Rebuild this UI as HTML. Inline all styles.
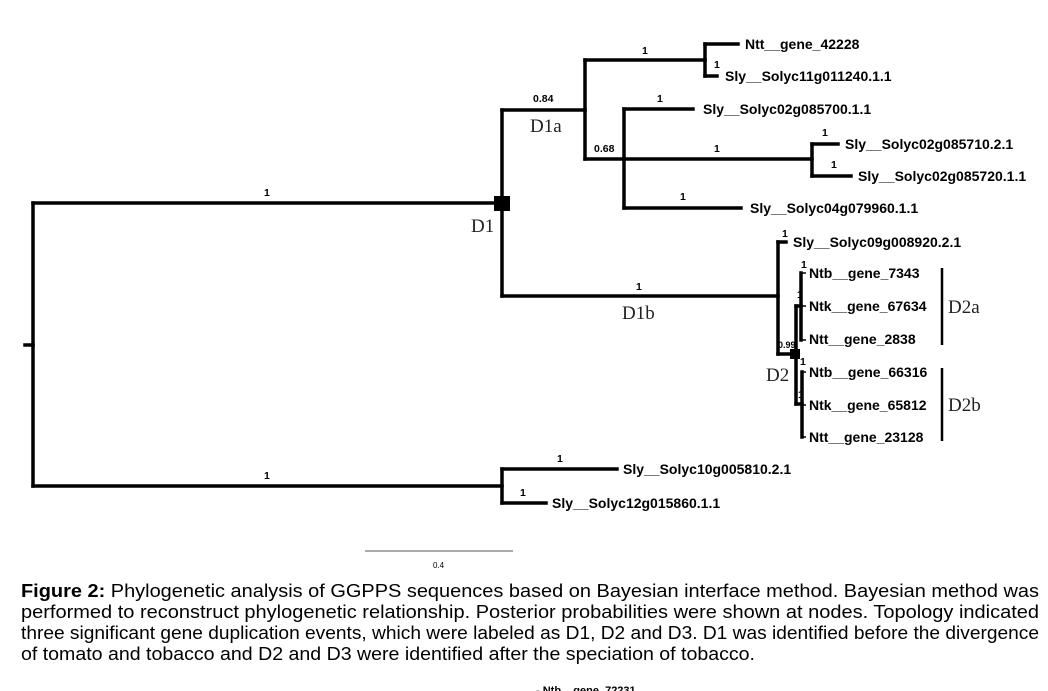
<!DOCTYPE html>
<html><head><meta charset="utf-8"><style>
html,body{margin:0;padding:0;background:#fff;}
svg{display:block;}
.t{font-family:"Liberation Sans",Arial,sans-serif;font-weight:bold;font-size:14px;fill:#000;}
.n{font-family:"Liberation Sans",Arial,sans-serif;font-weight:bold;font-size:10.5px;fill:#000;}
.s{font-family:"Liberation Serif","Times New Roman",serif;font-size:19px;fill:#222;}
.c{font-family:"Liberation Sans",Arial,sans-serif;font-size:18.5px;fill:#000;}
</style></head><body>
<svg width="1048" height="691" viewBox="0 0 1048 691" xmlns="http://www.w3.org/2000/svg">
<g stroke="#000" stroke-width="3.5" fill="none" stroke-linecap="square">
<path d="M25 345H33"/>
<path d="M33 203V486"/>
<path d="M33 203H502"/>
<path d="M502 110V296"/>
<path d="M502 110H585"/>
<path d="M585 60V159"/>
<path d="M585 60H705"/>
<path d="M705 44V76"/>
<path d="M705 44H738"/>
<path d="M705 76H717"/>
<path d="M585 159H812"/>
<path d="M624 109V208"/>
<path d="M624 109H693"/>
<path d="M812 144V176"/>
<path d="M812 144H838"/>
<path d="M812 176H851"/>
<path d="M624 208H741"/>
<path d="M502 296H778"/>
<path d="M778 242V354"/>
<path d="M778 242H786"/>
<path d="M778 354H796"/>
<path d="M796 306V404"/>
<path d="M796 306H801"/>
<path d="M796 404H802"/>
<path d="M801 273V340"/>
<path d="M802 372V437"/>
<path d="M33 486H502"/>
<path d="M502 469V503"/>
<path d="M502 469H617"/>
<path d="M502 503H546"/>
</g>
<g stroke="#000" stroke-width="1.5">
<path d="M801 273H806M801 306H806M801 340H806M802 372H806M802 405H806M802 437H806"/>
</g>
<rect x="494" y="196" width="16" height="15" fill="#000"/>
<rect x="790" y="349" width="10" height="10" fill="#000"/>
<g stroke="#000" stroke-width="2.5">
<path d="M942 268V345"/>
<path d="M942 368V441"/>
</g>
<path d="M365 551H513" stroke="#777" stroke-width="1.2"/>
<text class="n" x="433" y="568" style="font-weight:normal;font-size:8px">0.4</text>

<text class="t" x="745" y="49">Ntt__gene_42228</text>
<text class="t" x="725" y="81">Sly__Solyc11g011240.1.1</text>
<text class="t" x="703" y="114">Sly__Solyc02g085700.1.1</text>
<text class="t" x="845" y="149">Sly__Solyc02g085710.2.1</text>
<text class="t" x="858" y="181">Sly__Solyc02g085720.1.1</text>
<text class="t" x="750" y="213">Sly__Solyc04g079960.1.1</text>
<text class="t" x="793" y="247">Sly__Solyc09g008920.2.1</text>
<text class="t" x="809" y="278">Ntb__gene_7343</text>
<text class="t" x="809" y="311">Ntk__gene_67634</text>
<text class="t" x="809" y="344">Ntt__gene_2838</text>
<text class="t" x="809" y="377">Ntb__gene_66316</text>
<text class="t" x="809" y="410">Ntk__gene_65812</text>
<text class="t" x="809" y="442">Ntt__gene_23128</text>
<text class="t" x="623" y="474">Sly__Solyc10g005810.2.1</text>
<text class="t" x="552" y="508">Sly__Solyc12g015860.1.1</text>

<text class="n" x="264" y="196">1</text>
<text class="n" x="533" y="102">0.84</text>
<text class="n" x="642" y="54">1</text>
<text class="n" x="714" y="68">1</text>
<text class="n" x="657" y="102">1</text>
<text class="n" x="594" y="152">0.68</text>
<text class="n" x="714" y="152">1</text>
<text class="n" x="680" y="200">1</text>
<text class="n" x="822" y="136">1</text>
<text class="n" x="831" y="168">1</text>
<text class="n" x="636" y="290">1</text>
<text class="n" x="782" y="237">1</text>
<text class="n" x="801" y="268">1</text>
<text class="n" x="797" y="298">1</text>
<text class="n" x="778" y="348" style="font-size:9px">0.99</text>
<text class="n" x="800" y="365">1</text>
<text class="n" x="798" y="398">1</text>
<text class="n" x="264" y="479">1</text>
<text class="n" x="557" y="462">1</text>
<text class="n" x="520" y="496">1</text>

<text class="s" x="530" y="132">D1a</text>
<text class="s" x="471" y="232">D1</text>
<text class="s" x="622" y="319">D1b</text>
<text class="s" x="766" y="381">D2</text>
<text class="s" x="948" y="313">D2a</text>
<text class="s" x="948" y="411">D2b</text>

<text class="c" x="21" y="597" textLength="1018" lengthAdjust="spacingAndGlyphs"><tspan font-weight="bold">Figure 2:</tspan> Phylogenetic analysis of GGPPS sequences based on Bayesian interface method. Bayesian method was</text>
<text class="c" x="21" y="618" textLength="1018" lengthAdjust="spacingAndGlyphs">performed to reconstruct phylogenetic relationship. Posterior probabilities were shown at nodes. Topology indicated</text>
<text class="c" x="21" y="639" textLength="1018" lengthAdjust="spacingAndGlyphs">three significant gene duplication events, which were labeled as D1, D2 and D3. D1 was identified before the divergence</text>
<text class="c" x="21" y="660" textLength="734" lengthAdjust="spacingAndGlyphs">of tomato and tobacco and D2 and D3 were identified after the speciation of tobacco.</text>
<text class="n" x="536" y="694" style="font-size:11px">- Ntb__gene_72231</text>
</svg>
</body></html>
